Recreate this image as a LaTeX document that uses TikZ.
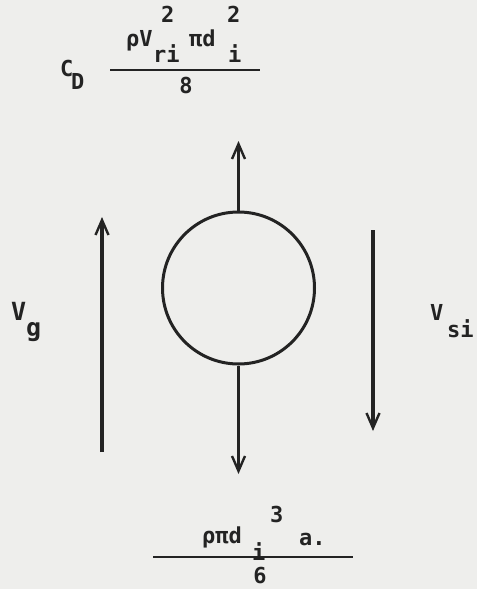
\documentclass[tikz,border=0pt]{standalone}
\usepackage{fontspec}
\setmonofont{DejaVu Sans Mono}
\usetikzlibrary{arrows.meta}
\definecolor{paper}{RGB}{238,238,236}
\definecolor{ink}{RGB}{35,35,35}
\tikzset{
  lbl/.style={inner sep=0pt, anchor=base west, text=ink, font=\ttfamily\bfseries\fontsize{22}{26}\selectfont},
  lblc/.style={lbl, anchor=base},
  big/.style={lbl, font=\ttfamily\bfseries\fontsize{25}{28}\selectfont},
  force/.style={draw=ink, line width=3.4pt, -{Straight Barb[length=15pt,width=13pt,line width=2.4pt]}},
  bar/.style={draw=ink, line width=1.6pt},
  ball/.style={circle, draw=ink, line width=3pt, minimum size=152pt, inner sep=0pt}
}
\begin{document}
\begin{tikzpicture}[x=1pt,y=-1pt]
\fill[paper] (0,0) rectangle (477,589);
\useasboundingbox (0,0) rectangle (477,589);

% drag term
\node[lbl] (cc) at (60,76) {C};
\node[lbl] (cd) at (71,89) {D};
\node[lbl] (rv) at (126,46) {ρV};
\node[lbl] (sup1) at (161,22) {2};
\node[lbl] (ri) at (153,62) {ri};
\node[lbl] (pd) at (189,46) {πd};
\node[lbl] (sup2) at (227,22) {2};
\node[lbl] (sub2) at (228,62) {i};
\coordinate (b1l) at (110,70);
\coordinate (b1r) at (260,70);
\draw[bar] (b1l) -- (b1r);
\node[lblc] (eight) at (186,93) {8};

% particle
\node[ball] (p) at (238.5,288) {};
\coordinate (ttop) at (238.5,141);
\coordinate (tbot) at (238.5,474);
\draw[force] (p.north) -- (ttop);
\draw[force] (p.south) -- (tbot);

% velocities
\coordinate (gs) at (102,452);
\coordinate (ge) at (102,217);
\draw[force] (gs) -- (ge);
\coordinate (ss) at (373,230);
\coordinate (se) at (373,431);
\draw[force] (ss) -- (se);

\node[big] (vg) at (11,320) {V};
\node[big] (g) at (26,336) {g};
\node[lbl] (vs) at (430,320) {V};
\node[lbl] (si) at (447,337) {si};

% weight term
\node[lbl] (rpd) at (202,543) {ρπd};
\node[lbl] (wi) at (252,560) {i};
\node[lbl] (w3) at (270,522) {3};
\node[lbl] (wa) at (299,545) {a.};
\coordinate (b2l) at (153,557);
\coordinate (b2r) at (353,557);
\draw[bar] (b2l) -- (b2r);
\node[lblc] (six) at (260,583) {6};
\end{tikzpicture}
\end{document}
